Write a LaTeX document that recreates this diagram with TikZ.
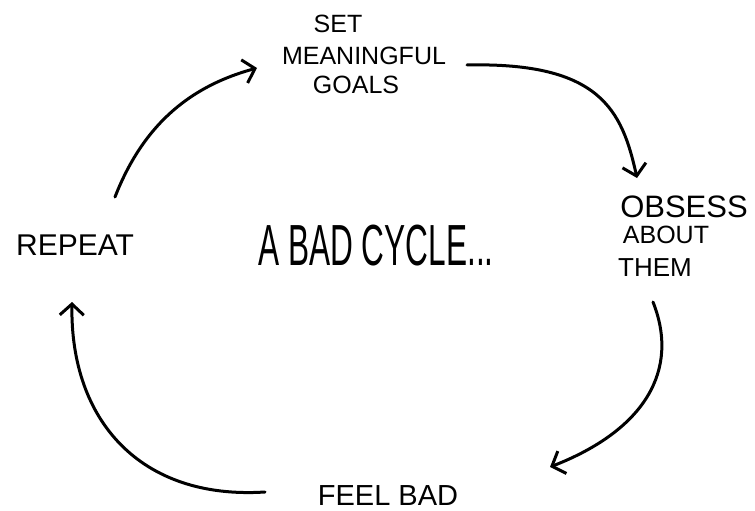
\documentclass[tikz,border=0pt]{standalone}
\usepackage{fontspec}
\usepackage{graphicx}
\setmainfont{Liberation Sans}
\usetikzlibrary{arrows.meta}
\begin{document}
\begin{tikzpicture}[x=1pt,y=-1pt,
  lbl/.style={anchor=base,inner sep=0pt,text=black},
  arr/.style={line width=3pt,line cap=round,line join=round,
    -{Straight Barb[length=11pt,width=24pt,line width=3pt]}}]
\useasboundingbox[fill=white] (0,0) rectangle (755,511);
% labels
\node[lbl,font=\fontsize{25}{25}\selectfont] (set1) at (338,33) {SET};
\node[lbl,font=\fontsize{25}{25}\selectfont] (set2) at (364,65) {MEANINGFUL};
\node[lbl,font=\fontsize{25}{25}\selectfont] (set3) at (356,93) {GOALS};
\node[lbl,font=\fontsize{31}{31}\selectfont] (obs1) at (684,217) {OBSESS};
\node[lbl,font=\fontsize{25}{25}\selectfont] (obs2) at (666,243) {ABOUT};
\node[lbl,font=\fontsize{26}{26}\selectfont] (obs3) at (655,276) {THEM};
\node[lbl,font=\fontsize{30}{30}\selectfont] (rep) at (75,255) {REPEAT};
\node[lbl,font=\fontsize{29}{29}\selectfont] (feel) at (388,505) {FEEL BAD};
\node[lbl,font=\fontsize{40}{40}\selectfont] (title) at (376,265) {\scalebox{0.79}[1.45]{A BAD CYCLE...}};
% connector end points
\coordinate (a1s) at (115,197);
\coordinate (a1e) at (257,68);
\coordinate (a2s) at (467,65);
\coordinate (a2e) at (637,178);
\coordinate (a3s) at (653,302);
\coordinate (a3e) at (550,467);
\coordinate (a4s) at (265,492);
\coordinate (a4e) at (72,302);
% connectors
\draw[arr] (a1s) .. controls (145,120) and (195,85) .. (a1e);
\draw[arr] (a2s) .. controls (600,62) and (622,110) .. (a2e);
\draw[arr] (a3s) .. controls (680,370) and (645,430) .. (a3e);
\draw[arr] (a4s) .. controls (140,500) and (70,420) .. (a4e);
\end{tikzpicture}
\end{document}
